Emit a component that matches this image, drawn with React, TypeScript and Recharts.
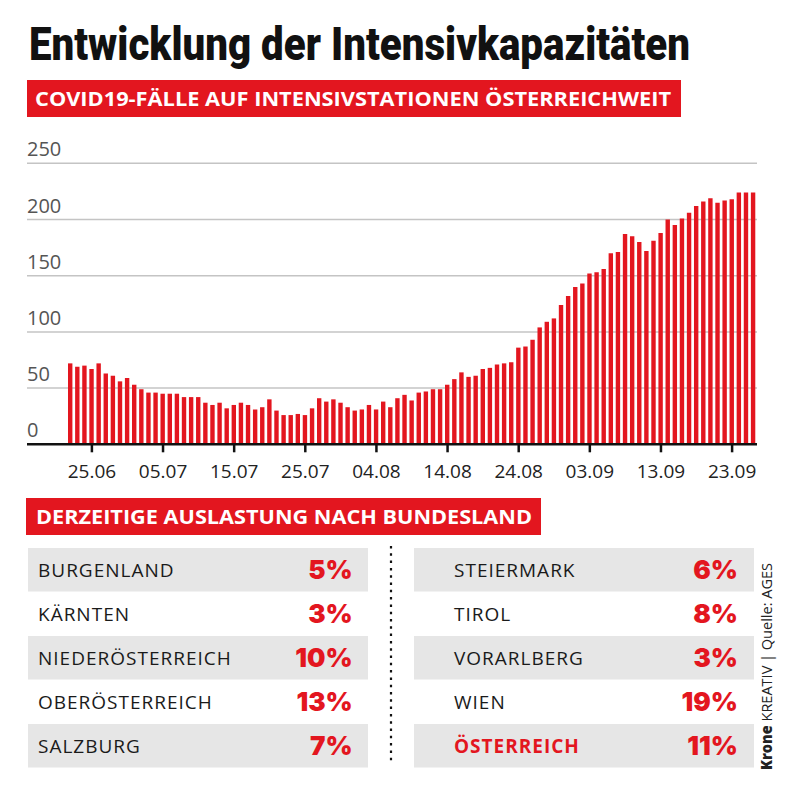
import React from 'react';
import { BarChart, Bar, XAxis, YAxis, CartesianGrid } from 'recharts';

const dates = [
  '22.06', '23.06', '24.06', '25.06', '26.06', '27.06', '28.06', '29.06', '30.06',
  '01.07', '02.07', '03.07', '04.07', '05.07', '06.07', '07.07', '08.07', '09.07', '10.07',
  '11.07', '12.07', '13.07', '14.07', '15.07', '16.07', '17.07', '18.07', '19.07', '20.07',
  '21.07', '22.07', '23.07', '24.07', '25.07', '26.07', '27.07', '28.07', '29.07', '30.07', '31.07',
  '01.08', '02.08', '03.08', '04.08', '05.08', '06.08', '07.08', '08.08', '09.08', '10.08',
  '11.08', '12.08', '13.08', '14.08', '15.08', '16.08', '17.08', '18.08', '19.08', '20.08',
  '21.08', '22.08', '23.08', '24.08', '25.08', '26.08', '27.08', '28.08', '29.08', '30.08', '31.08',
  '01.09', '02.09', '03.09', '04.09', '05.09', '06.09', '07.09', '08.09', '09.09', '10.09',
  '11.09', '12.09', '13.09', '14.09', '15.09', '16.09', '17.09', '18.09', '19.09', '20.09',
  '21.09', '22.09', '23.09', '24.09', '25.09', '26.09',
];

const icuCases = [
  72, 69, 70, 67, 72, 63, 61, 56, 59, 53, 49, 46, 46, 45, 45, 45, 42, 42, 42, 37, 35, 37,
  32, 35, 37, 35, 31, 33, 40, 30, 26, 26, 27, 26, 32, 41, 38, 40, 37, 33, 30, 31, 35, 31, 38, 33, 41, 44, 39,
  46, 47, 49, 49, 53, 58, 64, 60, 61, 67, 68, 71, 72, 73, 86, 87, 93, 104, 109, 112, 124, 132, 140, 143, 152, 153,
  156, 170, 171, 187, 185, 180, 172, 181, 188, 200, 195, 201, 206, 212, 216, 219, 215, 217, 218, 224, 224, 224,
];

const dateTicks = ['25.06', '05.07', '15.07', '25.07', '04.08', '14.08', '24.08', '03.09', '13.09', '23.09'];
const valueTicks = [0, 50, 100, 150, 200, 250];

const leftRegions = ['BURGENLAND', 'KÄRNTEN', 'NIEDERÖSTERREICH', 'OBERÖSTERREICH', 'SALZBURG'];
const leftShares = [5, 3, 10, 13, 7];
const rightRegions = ['STEIERMARK', 'TIROL', 'VORARLBERG', 'WIEN', 'ÖSTERREICH'];
const rightShares = [6, 8, 3, 19, 11];

const titleText = 'Entwicklung der Intensivkapazitäten';
const chartBanner = 'COVID19-FÄLLE AUF INTENSIVSTATIONEN ÖSTERREICHWEIT';
const tableBanner = 'DERZEITIGE AUSLASTUNG NACH BUNDESLAND';

const data = dates.map((d, i) => ({ date: d, value: icuCases[i] }));

const RED = '#e3161f';
const SANS = "'Open Sans', 'Noto Sans', sans-serif";

function XTick(props: any) {
  const { x, y, payload } = props;
  if (!dateTicks.includes(payload.value)) return <g />;
  return (
    <g>
      <line x1={x} x2={x} y1={y} y2={y + 8} stroke="#111" strokeWidth={2.5} />
      <text x={x} y={y + 34} textAnchor="middle" fontFamily={SANS} fontSize={19} fill="#222">
        {payload.value}
      </text>
    </g>
  );
}

function YTick(props: any) {
  const { y, payload } = props;
  return (
    <text x={27} y={y - 7} textAnchor="start" fontFamily={SANS} fontSize={20} fill="#555">
      {payload.value}
    </text>
  );
}

export default function App() {
  const rows = [0, 1, 2, 3, 4];
  return (
    <div style={{ position: 'relative', width: 800, height: 795, margin: -8, background: '#fff', overflow: 'hidden' }}>
      <div style={{ position: 'absolute', left: 0, top: 0 }}>
        <BarChart
          width={800}
          height={500}
          data={data}
          margin={{ top: 163.3, right: 43, bottom: 25.7, left: 26 }}
          barSize={4.4}
        >
          <CartesianGrid vertical={false} stroke="#c4c4c4" strokeWidth={1.5} />
          <YAxis
            domain={[0, 250]}
            ticks={valueTicks}
            width={1}
            axisLine={false}
            tickLine={false}
            interval={0}
            tick={YTick}
          />
          <XAxis
            dataKey="date"
            interval={0}
            tick={XTick}
            tickLine={false}
            tickSize={0}
            tickMargin={0}
            height={30}
            axisLine={{ stroke: '#111', strokeWidth: 2.5 }}
            padding={{ left: 40, right: 0 }}
          />
          <Bar dataKey="value" fill={RED} isAnimationActive={false} />
        </BarChart>
      </div>
      <svg width={800} height={795} style={{ position: 'absolute', left: 0, top: 0, pointerEvents: 'none' }}>
        <text
          x={29}
          y={60}
          fontFamily="Roboto, 'DejaVu Sans', sans-serif"
          fontWeight={900}
          fontSize={46}
          textLength={661}
          lengthAdjust="spacingAndGlyphs"
          fill="#111"
        >
          {titleText}
        </text>
        <rect x={27} y={80} width={654} height={37} fill={RED} />
        <text x={35} y={105.7} fontFamily={SANS} fontWeight={700} fontSize={20} fill="#fff" textLength={636} lengthAdjust="spacingAndGlyphs">
          {chartBanner}
        </text>
        <rect x={26} y={498} width={515} height={37} fill={RED} />
        <text x={36} y={524.3} fontFamily={SANS} fontWeight={700} fontSize={20} fill="#fff" textLength={496} lengthAdjust="spacingAndGlyphs">
          {tableBanner}
        </text>
        {rows.map((i) => (
          <g key={i}>
            {i % 2 === 0 && <rect x={28} y={548 + 44 * i} width={340} height={43.5} fill="#e6e6e6" />}
            {i % 2 === 0 && <rect x={414} y={548 + 44 * i} width={340} height={43.5} fill="#e6e6e6" />}
            <text x={38} y={577.3 + 44 * i} fontFamily={SANS} fontSize={19} letterSpacing={1} fill="#1a1a1a">
              {leftRegions[i]}
            </text>
            <text x={352.7} y={579.3 + 44 * i} textAnchor="end" fontFamily="Inter, 'Open Sans', sans-serif" fontWeight={900} fontSize={26} fill={RED}>
              {leftShares[i]}%
            </text>
            <text
              x={454}
              y={577.3 + 44 * i}
              fontFamily={SANS}
              fontSize={19}
              letterSpacing={1}
              fontWeight={i === 4 ? 700 : 400}
              fill={i === 4 ? RED : '#1a1a1a'}
            >
              {rightRegions[i]}
            </text>
            <text x={738} y={579.3 + 44 * i} textAnchor="end" fontFamily="Inter, 'Open Sans', sans-serif" fontWeight={900} fontSize={26} fill={RED}>
              {rightShares[i]}%
            </text>
          </g>
        ))}
        <line x1={391} x2={391} y1={546} y2={765} stroke="#111" strokeWidth={2.2} strokeDasharray="2.5 4.8" />
        <text
          transform="translate(772,770) rotate(-90)"
          fontFamily={SANS}
          fontSize={15}
          fill="#222"
          textLength={207}
          lengthAdjust="spacingAndGlyphs"
        >
          <tspan fontWeight={800}>Krone</tspan>
          <tspan> KREATIV | Quelle: AGES</tspan>
        </text>
      </svg>
    </div>
  );
}
